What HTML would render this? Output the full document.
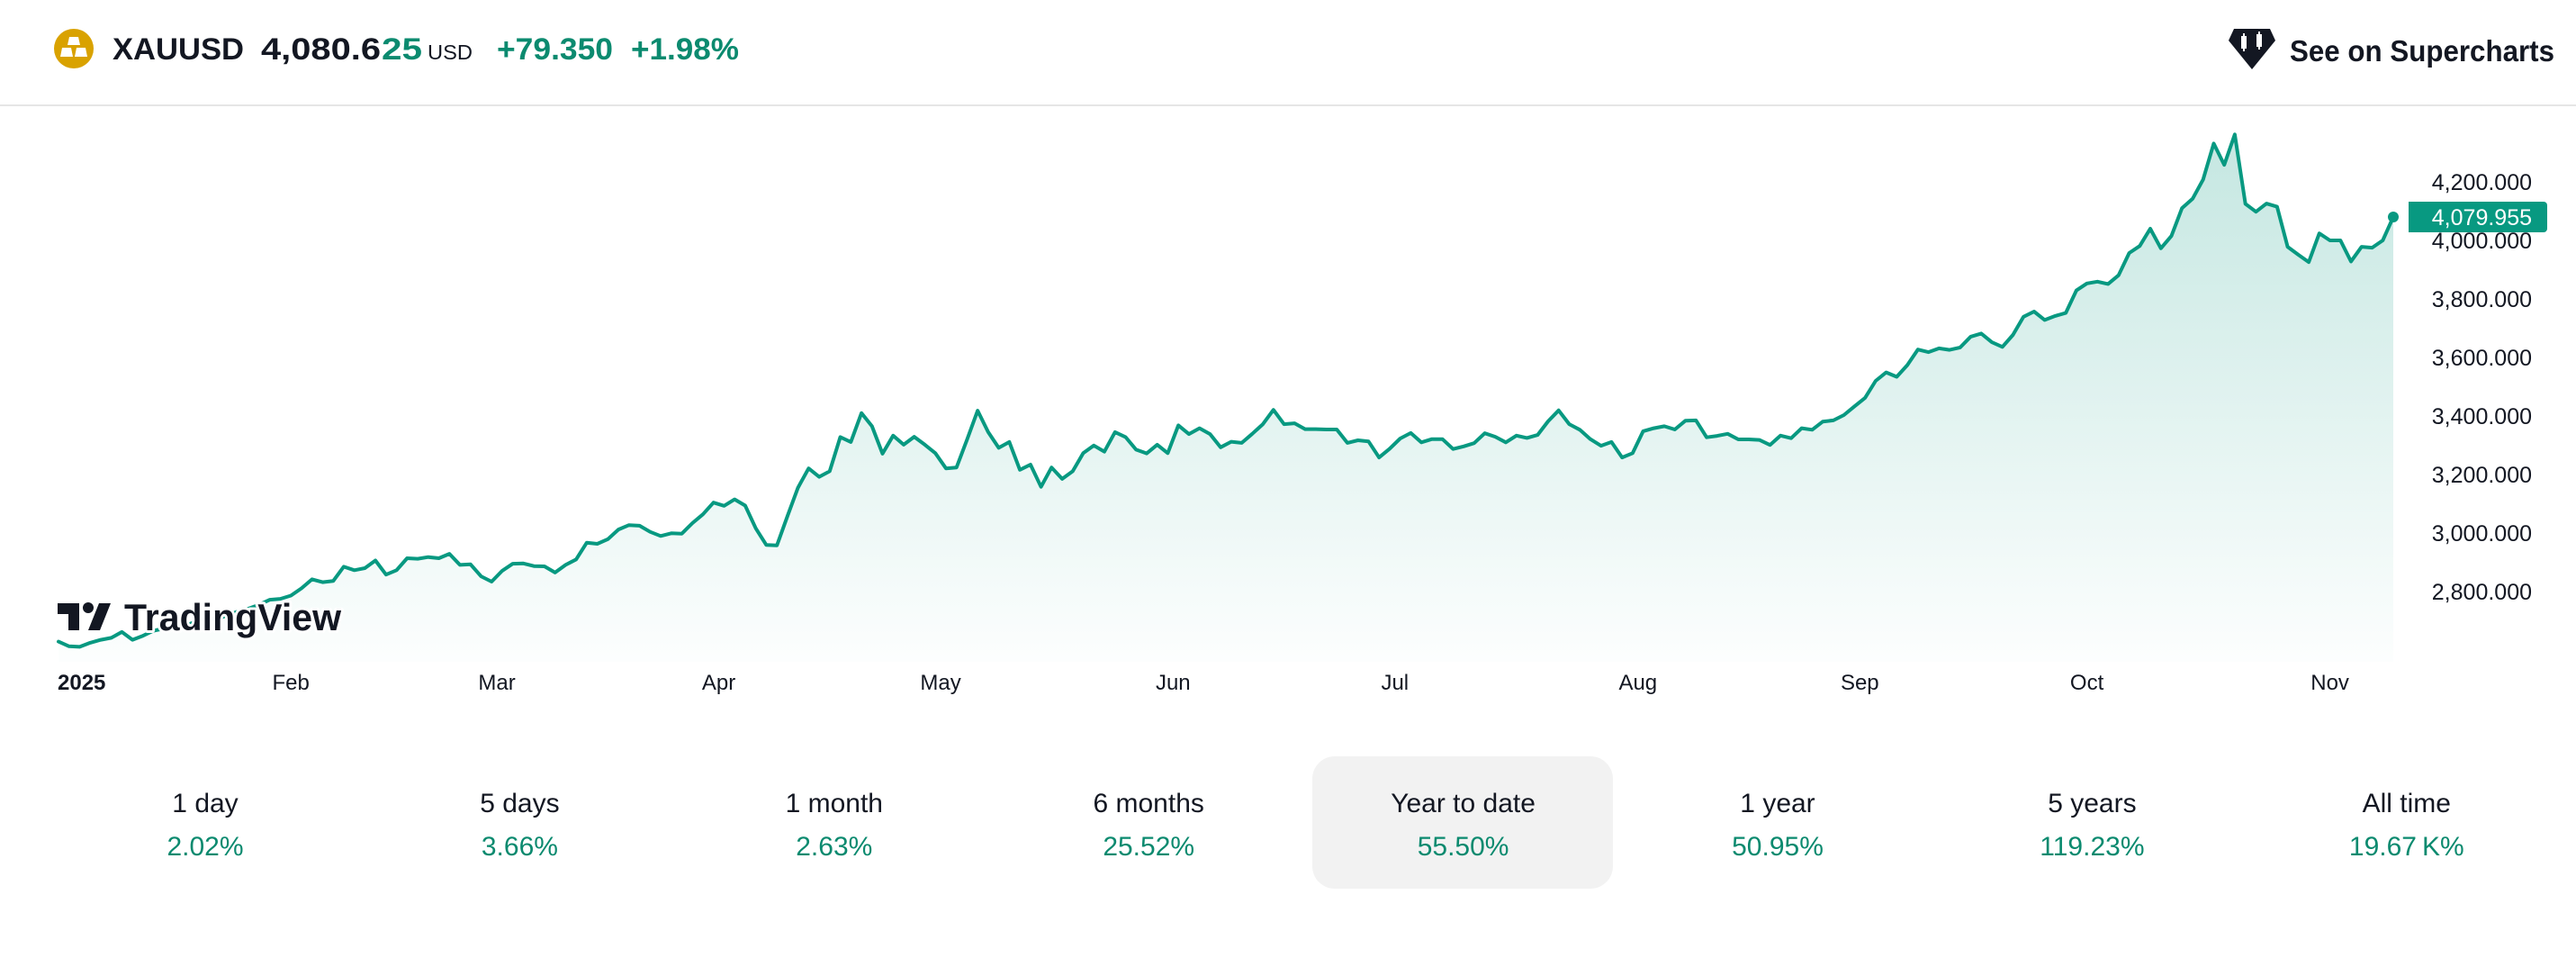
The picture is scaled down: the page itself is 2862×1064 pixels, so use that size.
<!DOCTYPE html>
<html><head><meta charset="utf-8"><style>
html,body{margin:0;padding:0;background:#fff;}
svg{display:block;font-family:"Liberation Sans",Arial,sans-serif;}
</style></head><body>
<svg id="chart" width="2862" height="1064" viewBox="0 0 2862 1064" xmlns="http://www.w3.org/2000/svg">
<defs>
<linearGradient id="fillGrad" gradientUnits="userSpaceOnUse" x1="0" y1="140" x2="0" y2="735">
<stop offset="0" stop-color="#089981" stop-opacity="0.24"/>
<stop offset="1" stop-color="#089981" stop-opacity="0.01"/>
</linearGradient>
</defs>
<rect x="0" y="0" width="2862" height="1064" fill="#fff"/>

<g>
<g>
<circle cx="82" cy="54" r="22" fill="#d9a200"/>
<polygon points="77,41 87,41 89,50 75,50" fill="#fff"/>
<polygon points="69,53 79,53 81,63 67,63" fill="#fff"/>
<polygon points="85,53 95,53 97,63 83,63" fill="#fff"/>
</g>
<text x="125" y="66" font-size="34" font-weight="bold" fill="#131722" textLength="146" lengthAdjust="spacingAndGlyphs">XAUUSD</text>
<text x="290" y="66" font-size="34" font-weight="bold" fill="#131722" textLength="133" lengthAdjust="spacingAndGlyphs">4,080.6</text>
<text x="424" y="66" font-size="34" font-weight="bold" fill="#0b8a6f" textLength="45" lengthAdjust="spacingAndGlyphs">25</text>
<text x="475" y="66" font-size="23" fill="#131722" textLength="50" lengthAdjust="spacingAndGlyphs">USD</text>
<text x="552" y="66" font-size="34" font-weight="bold" fill="#0b8a6f" textLength="129" lengthAdjust="spacingAndGlyphs">+79.350</text>
<text x="701" y="66" font-size="34" font-weight="bold" fill="#0b8a6f" textLength="120" lengthAdjust="spacingAndGlyphs">+1.98%</text>
<g>
<polygon points="2482,32 2522,32 2528,45 2502,77 2476,45" fill="#131722"/>
<rect x="2490" y="40" width="6" height="14" fill="#fff"/>
<rect x="2492" y="37" width="2" height="20" fill="#fff"/>
<rect x="2507" y="38" width="6" height="14" fill="#fff"/>
<rect x="2509" y="35" width="2" height="20" fill="#fff"/>
<text x="2544" y="68" font-size="33" font-weight="bold" fill="#131722" textLength="294" lengthAdjust="spacingAndGlyphs">See on Supercharts</text>
</g>
</g>
<rect x="0" y="116" width="2862" height="2" fill="#e6e6e6"/>

<g id="plot"></g>
<g id="yaxis"></g>
<g id="xaxis"></g>

<g>
<g stroke="#fff" stroke-width="6" stroke-linejoin="round" paint-order="stroke" fill="#131722">
<path d="M64,670 H88 V700 H76 V682 H64 Z"/>
<circle cx="98" cy="675" r="6"/>
<polygon points="110,670 123,670 111,700 98,700"/>
<text x="138" y="700" font-size="42" font-weight="bold" textLength="241" lengthAdjust="spacingAndGlyphs">TradingView</text>
</g>
</g>

<g id="stats">
<rect x="1458" y="840" width="334" height="147" rx="25" ry="25" fill="#f2f2f2"/>
</g>
</svg>
<script>
// ---- data ----
var prices = [2629,2613,2611,2625,2635,2642,2662,2635,2649,2666,2674,2686,2683,2698,2711,2705,2720,2732,2742,2755,
2772,2775,2786,2811,2842,2832,2836,2885,2873,2880,2906,2858,2873,2914,2912,2918,2914,2929,2891,2893,
2852,2834,2871,2895,2896,2887,2886,2865,2891,2910,2967,2963,2979,3012,3027,3025,3004,2990,2999,2998,
3034,3064,3104,3093,3115,3094,3016,2959,2958,3058,3155,3221,3192,3211,3328,3311,3410,3365,3271,3333,
3302,3329,3302,3273,3221,3224,3319,3418,3345,3291,3311,3216,3234,3158,3224,3185,3211,3273,3299,3278,
3345,3328,3285,3272,3302,3273,3368,3338,3358,3338,3293,3312,3308,3339,3372,3421,3372,3375,3355,3355,
3354,3354,3308,3317,3313,3258,3288,3323,3342,3310,3321,3321,3287,3296,3307,3341,3329,3310,3333,3325,
3335,3382,3419,3372,3353,3321,3298,3311,3258,3273,3348,3358,3365,3354,3384,3385,3327,3332,3339,3320,
3320,3318,3301,3333,3324,3358,3353,3381,3385,3403,3433,3462,3520,3549,3534,3574,3627,3618,3631,3626,
3634,3671,3682,3652,3636,3677,3739,3757,3728,3742,3752,3829,3853,3859,3851,3881,3957,3981,4040,3973,
4015,4110,4142,4208,4331,4258,4362,4125,4098,4126,4115,3978,3951,3926,4024,4000,4000,3928,3978,3975,
4000,4079.955];
var yTicks = [4200,4000,3800,3600,3400,3200,3000,2800];
var yTickLabels = ["4,200.000","4,000.000","3,800.000","3,600.000","3,400.000","3,200.000","3,000.000","2,800.000"];
var monthLabels = ["2025","Feb","Mar","Apr","May","Jun","Jul","Aug","Sep","Oct","Nov"];
var monthIdx = [3.5,22,41.5,62.5,83.5,105.5,126.5,149.5,170.5,192,215];
var lastPriceLabel = "4,079.955";
var periodLabels = ["1 day","5 days","1 month","6 months","Year to date","1 year","5 years","All time"];
var periodValues = ["2.02%","3.66%","2.63%","25.52%","55.50%","50.95%","119.23%","19.67\u2009K%"];

// ---- scales ----
var NS = "http://www.w3.org/2000/svg";
var X0 = 65, X1 = 2659, BOTTOM = 735;
function xScale(i){ return X0 + i*(X1-X0)/(prices.length-1); }
function yScale(p){ return 267 - (p-4000)*0.325; }
function mk(tag, attrs, parent){ var e=document.createElementNS(NS,tag); for(var k in attrs){e.setAttribute(k,attrs[k]);} parent.appendChild(e); return e; }

var plot = document.getElementById('plot');
var pts = prices.map(function(p,i){ return xScale(i).toFixed(1)+","+yScale(p).toFixed(1); });
var area = mk('path',{d:"M"+xScale(0)+","+BOTTOM+" L"+pts.join(" L")+" L"+xScale(prices.length-1)+","+BOTTOM+" Z", fill:"url(#fillGrad)"}, plot);


var line = mk('path',{d:"M"+pts.join(" L"), fill:"none", stroke:"#089981", "stroke-width":"4", "stroke-linejoin":"round", "stroke-linecap":"round"}, plot);


var lastI = prices.length-1;
var dot = mk('circle',{cx:xScale(lastI), cy:yScale(prices[lastI]), r:"6", fill:"#089981"}, plot);



var yaxis = document.getElementById('yaxis');
yTicks.forEach(function(v,k){
  var t = mk('text',{x:"2813", y:(yScale(v)+9).toFixed(1), "font-size":"25", "text-anchor":"end", fill:"#131722"}, yaxis);
  t.textContent = yTickLabels[k];
  
  
});
var by = yScale(prices[lastI]);
var badge = mk('path',{d:"M2676,"+(by-17)+" H2826 a4,4 0 0 1 4,4 V"+(by+13)+" a4,4 0 0 1 -4,4 H2676 Z", fill:"#089981"}, yaxis);


var bt = mk('text',{x:"2813", y:(by+9).toFixed(1), "font-size":"25", "text-anchor":"end", fill:"#fff"}, yaxis);
bt.textContent = lastPriceLabel;



var xaxis = document.getElementById('xaxis');
monthLabels.forEach(function(m,k){
  var attrs = {x:xScale(monthIdx[k]).toFixed(1), y:"766", "font-size":"24", "text-anchor":"middle", fill:"#131722"};
  if(k===0){ attrs["font-weight"]="bold"; attrs["text-anchor"]="start"; attrs.x="64"; }
  var t = mk('text', attrs, xaxis);
  t.textContent = m;
  
  
});

var stats = document.getElementById('stats');
periodLabels.forEach(function(lab,k){
  var cx = 228 + k*349.4;
  var g = mk('g',{}, stats);
  
  
  var a = mk('text',{x:cx.toFixed(1), y:"902", "font-size":"30", "text-anchor":"middle", fill:"#131722"}, g);
  a.textContent = lab;
  
  
  var b = mk('text',{x:cx.toFixed(1), y:"950", "font-size":"30", "text-anchor":"middle", fill:"#0b8a6f"}, g);
  b.textContent = periodValues[k];
  
  
});
</script>
</body></html>
